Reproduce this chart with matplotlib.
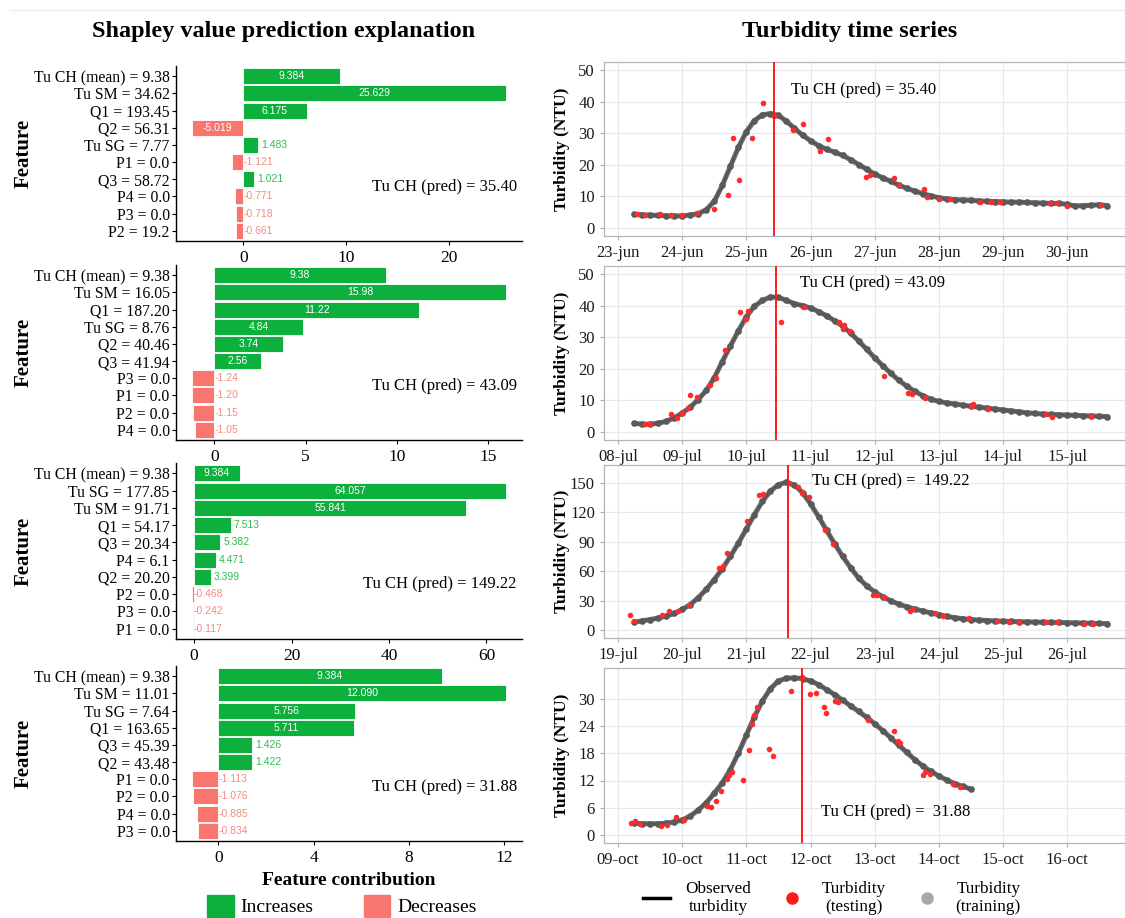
import numpy as np
import matplotlib
matplotlib.use('Agg')
import matplotlib.pyplot as plt
from matplotlib.patches import Patch
from matplotlib.lines import Line2D

plt.rcParams['font.family'] = ['Liberation Serif', 'DejaVu Serif']

# ---------------- Shapley bars (one list pair per event) ----------------
feat_jun = ['Tu CH (mean) = 9.38', 'Tu SM = 34.62', 'Q1 = 193.45', 'Q2 = 56.31', 'Tu SG = 7.77',
            'P1 = 0.0', 'Q3 = 58.72', 'P4 = 0.0', 'P3 = 0.0', 'P2 = 19.2']
shap_jun = [9.384, 25.629, 6.175, -5.019, 1.483, -1.121, 1.021, -0.771, -0.718, -0.661]

feat_jul1 = ['Tu CH (mean) = 9.38', 'Tu SM = 16.05', 'Q1 = 187.20', 'Tu SG = 8.76', 'Q2 = 40.46',
             'Q3 = 41.94', 'P3 = 0.0', 'P1 = 0.0', 'P2 = 0.0', 'P4 = 0.0']
shap_jul1 = [9.38, 15.98, 11.22, 4.84, 3.74, 2.56, -1.24, -1.20, -1.15, -1.05]

feat_jul2 = ['Tu CH (mean) = 9.38', 'Tu SG = 177.85', 'Tu SM = 91.71', 'Q1 = 54.17', 'Q3 = 20.34',
             'P4 = 6.1', 'Q2 = 20.20', 'P2 = 0.0', 'P3 = 0.0', 'P1 = 0.0']
shap_jul2 = [9.384, 64.057, 55.841, 7.513, 5.382, 4.471, 3.399, -0.468, -0.242, -0.117]

feat_oct = ['Tu CH (mean) = 9.38', 'Tu SM = 11.01', 'Tu SG = 7.64', 'Q1 = 163.65', 'Q3 = 45.39',
            'Q2 = 43.48', 'P1 = 0.0', 'P2 = 0.0', 'P4 = 0.0', 'P3 = 0.0']
shap_oct = [9.384, 12.090, 5.756, 5.711, 1.426, 1.422, -1.113, -1.076, -0.885, -0.834]

pred_labels = ['35.40', '43.09', '149.22', '31.88']

# ---------------- Turbidity series (3-hourly readings, days from first tick) ----------------
step = 0.125
jun_obs = [4.3, 4.2, 4.1, 4.0, 3.9, 3.8, 3.9, 4.1, 4.6, 5.8,
           8.5, 13.5, 19.5, 25.5, 30.5, 34.0, 35.8, 36.2, 35.6, 33.8,
           31.5, 29.4, 27.6, 26.1, 24.9, 24.0, 23.0, 21.6, 20.1, 18.6,
           17.1, 15.9, 14.8, 13.6, 12.6, 11.7, 10.9, 10.2, 9.6, 9.2,
           9.0, 8.9, 8.8, 8.6, 8.5, 8.4, 8.3, 8.2, 8.2, 8.1,
           8.0, 7.9, 7.8, 7.8, 7.5, 7.0, 7.1, 7.2, 7.4, 7.1]
jul1_obs = [2.8, 2.5, 2.5, 2.8, 3.4, 4.5, 6.0, 7.9, 10.3, 13.2,
            17.2, 22.3, 27.2, 32.0, 36.5, 39.8, 41.6, 42.7, 42.6, 41.6,
            40.6, 40.0, 39.2, 38.1, 36.8, 35.2, 33.5, 31.3, 28.8, 26.2,
            23.5, 21.0, 18.6, 16.4, 14.5, 12.9, 11.5, 10.4, 9.7, 9.2,
            8.9, 8.5, 8.2, 7.9, 7.6, 7.3, 7.0, 6.7, 6.4, 6.1,
            5.9, 5.7, 5.6, 5.5, 5.4, 5.3, 5.2, 5.1, 5.0, 4.9]
jul2_obs = [8.0, 9.5, 10.8, 12.3, 14.3, 17.0, 21.0, 26.0, 33.0, 41.5,
            51.5, 62.5, 75.0, 88.5, 103.0, 117.5, 131.0, 141.5, 148.0, 150.5,
            147.5, 140.0, 128.5, 115.5, 101.5, 88.0, 75.0, 63.5, 53.0, 45.0,
            39.0, 34.0, 29.8, 26.5, 23.8, 21.5, 19.5, 17.5, 15.8, 14.0,
            12.6, 11.6, 10.8, 10.2, 9.8, 9.4, 9.1, 8.8, 8.6, 8.4,
            8.2, 8.0, 7.9, 7.8, 7.6, 7.4, 7.2, 7.0, 6.8, 6.6]
oct_obs = [2.6, 2.5, 2.5, 2.5, 2.6, 2.9, 3.3, 4.2, 5.5, 7.1,
           9.2, 11.5, 14.4, 18.0, 22.0, 26.0, 29.5, 32.2, 33.9, 34.5,
           34.6, 34.4, 33.9, 33.1, 32.0, 30.9, 29.7, 28.4, 27.2, 25.9,
           24.5, 23.0, 21.4, 19.8, 18.2, 16.6, 15.2, 14.0, 13.0, 12.1,
           11.3, 10.7, 10.1]

jun_test_t = [0.30, 0.42, 0.65, 0.83, 1.0, 1.23, 1.49, 1.72, 1.79, 1.89, 2.08, 2.26, 2.43, 2.72, 2.89, 3.15,
              3.27, 3.87, 3.92, 4.30, 4.38, 4.77, 4.81, 5.01, 5.18, 5.64, 5.81, 5.95, 6.73, 6.84, 7.0, 7.53]
jun_test_y = [4.5, 4.0, 4.3, 4.0, 4.0, 4.8, 5.9, 10.4, 28.6, 15.3, 28.4, 39.6, 35.4, 31.0, 33.0, 24.3,
              28.1, 16.1, 16.7, 15.8, 13.7, 12.2, 9.9, 9.1, 9.1, 8.1, 8.1, 8.3, 8.0, 8.0, 7.0, 7.3]
jul1_test_t = [0.42, 0.5, 0.83, 0.92, 1.0, 1.09, 1.12, 1.23, 1.43, 1.52, 1.66, 1.90, 1.99, 2.03, 2.54,
               2.90, 3.44, 3.50, 3.52, 3.61, 4.15, 4.52, 4.58, 4.78, 5.50, 5.53, 5.76, 6.67, 6.76, 7.37]
jul1_test_y = [2.4, 2.6, 5.6, 4.5, 6.0, 7.6, 11.6, 11.1, 14.8, 17.2, 25.9, 38.1, 35.9, 38.4, 34.9,
               39.6, 34.9, 32.5, 33.8, 31.9, 17.7, 12.2, 11.9, 10.9, 8.2, 8.8, 7.4, 5.6, 4.8, 5.0]
jul2_test_t = [0.19, 0.25, 0.69, 0.80, 0.94, 1.10, 1.57, 1.63, 1.69, 2.01, 2.19, 2.26, 2.67, 2.80, 2.86, 2.98,
               3.22, 3.35, 3.98, 4.04, 4.15, 4.55, 4.60, 4.94, 5.07, 5.47, 5.90, 6.10, 6.25, 6.67, 6.85, 7.27, 7.41]
jul2_test_y = [15.8, 9.4, 15.8, 19.2, 19.2, 25.3, 63.0, 65.7, 78.5, 111.0, 137.0, 139.0, 150.0, 146.0, 140.0, 135.0,
               102.0, 87.6, 36.0, 36.0, 33.7, 19.2, 21.9, 17.9, 14.5, 12.5, 9.4, 8.4, 8.4, 7.8, 7.8, 6.7, 6.7]
oct_test_t = [0.20, 0.26, 0.34, 0.67, 0.76, 0.90, 1.03, 1.38, 1.45, 1.52, 1.61, 1.69, 1.73, 1.78, 1.95, 2.04,
              2.08, 2.12, 2.16, 2.36, 2.41, 2.70, 2.86, 2.99, 3.08, 3.21, 3.24, 3.38, 3.43, 3.90, 4.30, 4.36,
              4.39, 4.75, 4.79, 4.87, 5.22, 5.33]
oct_test_y = [2.7, 3.1, 2.4, 2.0, 2.3, 4.0, 3.4, 6.4, 6.2, 7.5, 9.7, 12.4, 13.2, 13.9, 12.1, 18.7,
              24.5, 26.5, 28.2, 19.0, 17.3, 31.8, 34.7, 31.1, 31.3, 28.2, 26.9, 29.5, 29.3, 25.4, 23.0, 20.7,
              20.3, 13.2, 13.9, 13.5, 11.2, 10.5]

pred_time = [2.43, 2.46, 2.65, 2.86]   # prediction instant (vertical red line)

jun_ticks = ['23-jun', '24-jun', '25-jun', '26-jun', '27-jun', '28-jun', '29-jun', '30-jun']
jul1_ticks = ['08-jul', '09-jul', '10-jul', '11-jul', '12-jul', '13-jul', '14-jul', '15-jul']
jul2_ticks = ['19-jul', '20-jul', '21-jul', '22-jul', '23-jul', '24-jul', '25-jul', '26-jul']
oct_ticks = ['09-oct', '10-oct', '11-oct', '12-oct', '13-oct', '14-oct', '15-oct', '16-oct']

GREEN, RED = '#0db03c', '#f8766d'
GREEN_TXT, RED_TXT = '#2ebd52', '#f28a84'
TRAIN = '#5a5a5a'

W, H = 1125, 918
fig = plt.figure(figsize=(W / 100, H / 100), dpi=100)


def px_axes(left, top, right, bottom):
    return fig.add_axes([left / W, 1 - bottom / H, (right - left) / W, (bottom - top) / H])


def shap_panel(ax, feats, vals, ticks, fmt, pred):
    n = len(vals)
    y = np.arange(n)[::-1]
    cols = [GREEN if v > 0 else RED for v in vals]
    ax.barh(y, vals, height=0.93, color=cols, edgecolor='white', linewidth=0.6)
    lo, hi = min(min(vals), 0), max(max(vals), 0)
    span = hi - lo
    ax.set_xlim(lo - 0.05 * span, hi + 0.05 * span)
    ax.set_ylim(-0.6, n - 0.4)
    for yi, v in zip(y, vals):
        s = fmt % v
        if abs(v) > 0.13 * span:
            ax.text(v / 2, yi, s, color='white', ha='center', va='center', fontsize=7.5,
                    family='Liberation Sans')
        else:
            x0 = v + 0.01 * span if v > 0 else 0
            ax.text(x0, yi, s, color=GREEN_TXT if v > 0 else RED_TXT, ha='left', va='center',
                    fontsize=7.5, family='Liberation Sans')
    ax.set_yticks(y)
    ax.set_yticklabels(feats, fontsize=11.3)
    ax.set_xticks(ticks)
    ax.tick_params(axis='x', labelsize=12.5, length=3, width=0.8)
    ax.tick_params(axis='y', length=3, width=0.8, pad=1.5)
    for s in ['top', 'right']:
        ax.spines[s].set_visible(False)
    for s in ['left', 'bottom']:
        ax.spines[s].set_linewidth(1.0)
    ax.text(0.985, 0.31, 'Tu CH (pred) = ' + pred, transform=ax.transAxes, ha='right', va='center',
            fontsize=12)


def ts_panel(ax, obs, tt, ty, vline, ylim, yticks, xlabels, note, note_xy):
    t = 0.25 + step * np.arange(len(obs))
    ax.grid(color='#e8e8e8', lw=0.8, zorder=0)
    ax.plot(t, obs, color='black', lw=1.3, zorder=2)
    # training readings: dense band of gray dots
    ax.plot(t, obs, color=TRAIN, lw=3.6, alpha=0.9, solid_capstyle='round', zorder=3)
    ax.plot(t, obs, 'o', color=TRAIN, ms=4.8, mew=0, zorder=3)
    ax.scatter(tt, ty, s=16, color='#ff2b2b', lw=0, zorder=4)
    ax.axvline(vline, color='#ff1a1a', lw=1.4, zorder=5)
    ax.set_xlim(-0.22, 7.95)
    ax.set_ylim(*ylim)
    ax.set_yticks(yticks)
    ax.set_xticks(np.arange(len(xlabels)))
    ax.set_xticklabels(xlabels)
    ax.tick_params(labelsize=12, length=3, color='#b0b0b0', labelcolor='#1a1a1a')
    for s in ax.spines.values():
        s.set_color('#b5b5b5')
        s.set_linewidth(0.9)
    ax.text(note_xy[0], note_xy[1], note, ha='left', va='center', fontsize=12)


left_boxes = [(66, 241), (265, 440), (463, 639), (666, 841)]
right_boxes = [(62, 236), (266, 440), (465, 638), (668, 843)]

shap_sets = [(feat_jun, shap_jun, [0, 10, 20], '%.3f'),
             (feat_jul1, shap_jul1, [0, 5, 10, 15], '%.2f'),
             (feat_jul2, shap_jul2, [0, 20, 40, 60], '%.3f'),
             (feat_oct, shap_oct, [0, 4, 8, 12], '%.3f')]

ts_sets = [(jun_obs, jun_test_t, jun_test_y, (-2.5, 52.5), [0, 10, 20, 30, 40, 50], jun_ticks,
            'Tu CH (pred) = 35.40', (2.69, 43.8)),
           (jul1_obs, jul1_test_t, jul1_test_y, (-2.5, 52.5), [0, 10, 20, 30, 40, 50], jul1_ticks,
            'Tu CH (pred) = 43.09', (2.83, 47.0)),
           (jul2_obs, jul2_test_t, jul2_test_y, (-8, 168), [0, 30, 60, 90, 120, 150], jul2_ticks,
            'Tu CH (pred) =  149.22', (3.03, 151.6)),
           (oct_obs, oct_test_t, oct_test_y, (-1.75, 36.75), [0, 6, 12, 18, 24, 30], oct_ticks,
            'Tu CH (pred) =  31.88', (3.16, 5.1))]

for i in range(4):
    top, bot = left_boxes[i]
    ax = px_axes(176, top, 522, bot)
    feats, vals, ticks, fmt = shap_sets[i]
    shap_panel(ax, feats, vals, ticks, fmt, pred_labels[i])
    fig.text(24 / W, 1 - (top + bot) / 2 / H, 'Feature', rotation=90, ha='center', va='center',
             fontsize=15, fontweight='bold')
    if i == 3:
        ax.set_xlabel('Feature contribution', fontsize=14, fontweight='bold', labelpad=4)

    top, bot = right_boxes[i]
    axr = px_axes(604, top, 1128, bot)
    obs, tt, ty, ylim, yt, xl, note, nxy = ts_sets[i]
    ts_panel(axr, obs, tt, ty, pred_time[i], ylim, yt, xl, note, nxy)
    fig.text(562 / W, 1 - (top + bot) / 2 / H, 'Turbidity (NTU)', rotation=90, ha='center',
             va='center', fontsize=12.5, fontweight='bold')

fig.text(284 / W, 1 - 31 / H, 'Shapley value prediction explanation', ha='center', va='center',
         fontsize=17.5, fontweight='bold')
fig.text(850 / W, 1 - 32 / H, 'Turbidity time series', ha='center', va='center',
         fontsize=17.5, fontweight='bold')
fig.add_artist(Line2D([10 / W, 1], [1 - 10 / H, 1 - 10 / H], color='#ececec', lw=1))

# legends
leg1 = fig.legend([Patch(color=GREEN), Patch(color=RED)], ['Increases', 'Decreases'], ncol=2,
                  loc='center', bbox_to_anchor=(342 / W, 1 - 906 / H), frameon=False, fontsize=14,
                  handlelength=1.35, handleheight=1.4, handletextpad=0.35, columnspacing=2.6)
hands = [Line2D([], [], color='black', lw=2.5),
         Line2D([], [], marker='o', ls='', color='#ff1a1a', ms=8),
         Line2D([], [], marker='o', ls='', color='#a8a8a8', ms=8)]
leg2 = fig.legend(hands, ['Observed\nturbidity', 'Turbidity\n(testing)', 'Turbidity\n(training)'],
                  ncol=3, loc='center', bbox_to_anchor=(832 / W, 1 - 898 / H), frameon=False,
                  fontsize=12.3, handlelength=1.6, handletextpad=0.9, columnspacing=1.6)
for t in leg2.get_texts():
    t.set_multialignment('center')

fig.savefig('out.png', dpi=100)
